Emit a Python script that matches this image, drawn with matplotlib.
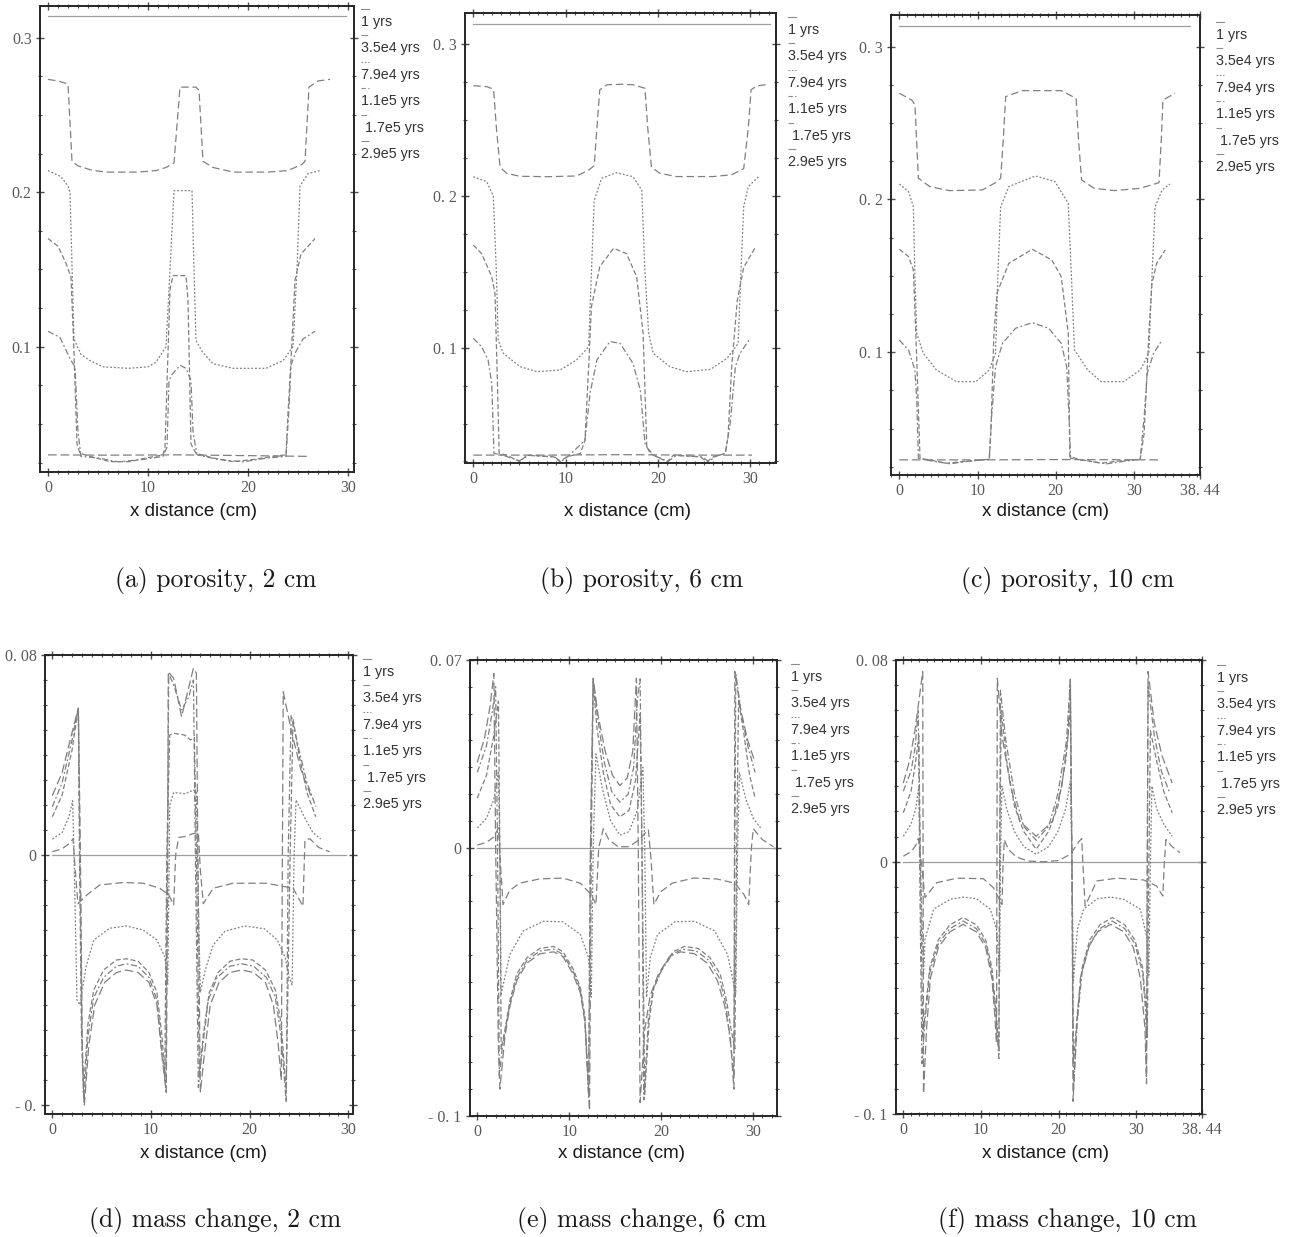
import matplotlib
matplotlib.use("Agg")
import matplotlib.pyplot as plt
from matplotlib.ticker import MultipleLocator
from matplotlib.lines import Line2D

# ---- series labels / styles ----
labels = ["1 yrs", "3.5e4 yrs", "7.9e4 yrs", "1.1e5 yrs", " 1.7e5 yrs", "2.9e5 yrs"]
styles = ["-", (0, (6, 3)), (0, (1.5, 1.5)), (0, (4, 2)), (0, (5, 2, 1.5, 2)), (0, (7, 3))]

# ---- (a) porosity, 2 cm ----
a_1 = [(0, 0.314), (29.8, 0.314)]
a_35e4 = [(0, 0.273), (1.0, 0.272), (2.0, 0.270), (2.4, 0.220), (3.0, 0.217), (4.5, 0.214), (6.0, 0.213),
          (9.0, 0.213), (10.8, 0.214), (11.8, 0.216), (12.6, 0.219), (13.2, 0.268), (14.8, 0.268), (15.1, 0.266),
          (15.5, 0.220), (16.5, 0.216), (18.5, 0.213), (22.0, 0.213), (24.0, 0.214), (25.4, 0.218), (25.7, 0.220),
          (26.1, 0.268), (27.0, 0.272), (28.2, 0.273)]
a_79e4 = [(0, 0.214), (1.3, 0.210), (2.0, 0.204), (2.2, 0.200), (2.6, 0.105), (3.3, 0.095), (4.2, 0.091),
          (5.5, 0.087), (8.0, 0.086), (10.0, 0.087), (10.8, 0.090), (11.8, 0.100), (12.2, 0.150), (12.6, 0.201),
          (14.4, 0.201), (14.6, 0.150), (14.8, 0.104), (15.4, 0.097), (16.5, 0.089), (18.5, 0.086), (21.8, 0.086),
          (23.5, 0.091), (24.5, 0.100), (24.9, 0.150), (25.2, 0.204), (26.0, 0.212), (27.2, 0.214)]
a_11e5 = [(0, 0.170), (1.0, 0.165), (1.8, 0.154), (2.3, 0.145), (2.6, 0.096), (2.9, 0.037), (3.2, 0.031),
          (4.2, 0.029), (6.2, 0.0256), (8.2, 0.0256), (9.8, 0.028), (11.5, 0.030), (11.7, 0.035), (12.2, 0.137),
          (12.5, 0.146), (13.8, 0.146), (14.0, 0.130), (14.3, 0.037), (14.8, 0.031), (16.5, 0.028), (18.5, 0.0256),
          (20.5, 0.027), (22.5, 0.029), (23.8, 0.030), (24.0, 0.057), (24.3, 0.091), (24.7, 0.143), (25.3, 0.160),
          (26.7, 0.170)]
a_17e5 = [(0, 0.110), (1.2, 0.106), (2.3, 0.091), (2.7, 0.087), (3.0, 0.045), (3.3, 0.029), (5.0, 0.028),
          (7.0, 0.0255), (9.5, 0.027), (11.5, 0.029), (11.9, 0.035), (12.1, 0.078), (12.4, 0.082), (13.2, 0.088),
          (13.8, 0.086), (14.3, 0.078), (14.5, 0.045), (14.9, 0.030), (17.0, 0.027), (19.5, 0.0255), (22.0, 0.028),
          (23.8, 0.029), (24.1, 0.060), (24.3, 0.088), (24.8, 0.097), (25.5, 0.105), (26.7, 0.110)]
a_29e5 = [(0, 0.030), (6.0, 0.0298), (13.0, 0.030), (20.0, 0.0295), (26.2, 0.029)]

# ---- (b) porosity, 6 cm ----
b_1 = [(0, 0.3134), (32.1, 0.3134)]
b_35e4 = [(0, 0.2727), (1.5, 0.272), (2.2, 0.2703), (2.5, 0.245), (2.9, 0.219), (3.6, 0.215), (5.0, 0.213),
          (8.0, 0.2127), (11.2, 0.2132), (12.5, 0.217), (13.1, 0.220), (13.4, 0.245), (13.7, 0.270), (14.5, 0.2733),
          (16.0, 0.2736), (17.3, 0.2733), (18.6, 0.271), (18.9, 0.245), (19.3, 0.219), (20.2, 0.215), (22.0, 0.2128),
          (26.0, 0.2128), (28.0, 0.214), (29.3, 0.218), (29.8, 0.245), (30.1, 0.270), (30.7, 0.2725), (32.0, 0.2736)]
b_79e4 = [(0, 0.2127), (1.45, 0.2094), (2.17, 0.200), (2.5, 0.150), (2.7, 0.105), (3.25, 0.0963), (5.06, 0.0875),
          (6.9, 0.0842), (9.4, 0.0853), (11.2, 0.092), (12.5, 0.1006), (12.8, 0.150), (13.1, 0.197), (13.9, 0.2116),
          (15.5, 0.2154), (17.3, 0.2127), (18.25, 0.204), (18.6, 0.150), (19.0, 0.1095), (19.5, 0.0963),
          (21.3, 0.0875), (23.1, 0.0842), (25.7, 0.0857), (27.5, 0.093), (28.7, 0.1028), (29.0, 0.150),
          (29.3, 0.193), (29.8, 0.2062), (30.9, 0.2127)]
b_11e5 = [(0, 0.1677), (0.9, 0.162), (2.0, 0.1468), (2.35, 0.1358), (2.6, 0.080), (2.8, 0.0303), (3.6, 0.0292),
          (5.06, 0.0248), (5.8, 0.0292), (8.7, 0.0281), (9.4, 0.0248), (10.1, 0.028), (11.6, 0.0303), (12.1, 0.039),
          (12.5, 0.0875), (12.8, 0.127), (13.7, 0.1534), (15.2, 0.1655), (16.6, 0.162), (17.7, 0.1468),
          (18.4, 0.1095), (18.8, 0.0347), (19.5, 0.0292), (21.0, 0.0248), (21.7, 0.0292), (24.6, 0.0281),
          (25.3, 0.0248), (26.0, 0.028), (27.3, 0.0303), (27.6, 0.0413), (28.0, 0.0875), (28.6, 0.131),
          (29.3, 0.153), (30.5, 0.1655)]
b_17e5 = [(0, 0.1062), (0.9, 0.1007), (1.6, 0.092), (2.0, 0.0765), (2.24, 0.0303), (3.0, 0.0295), (5.0, 0.0255),
          (6.0, 0.029), (8.8, 0.028), (9.5, 0.025), (10.3, 0.0285), (12.1, 0.039), (12.65, 0.070), (13.4, 0.092),
          (14.8, 0.104), (15.9, 0.1029), (17.3, 0.0897), (18.1, 0.072), (18.6, 0.037), (19.2, 0.030), (21.1, 0.025),
          (22.0, 0.029), (24.8, 0.028), (25.5, 0.025), (26.3, 0.0285), (27.3, 0.0303), (27.8, 0.048),
          (28.4, 0.0875), (28.9, 0.0963), (30.0, 0.1062)]
b_29e5 = [(0, 0.0292), (8.0, 0.0292), (16.0, 0.0295), (24.0, 0.0292), (30.2, 0.0292)]

# ---- (c) porosity, 10 cm ----
c_1 = [(0, 0.3135), (37.1, 0.3135)]
c_35e4 = [(0, 0.2695), (1.6, 0.265), (2.0, 0.262), (2.44, 0.2139), (3.9, 0.2084), (6.4, 0.2058), (10.6, 0.2062),
          (12.3, 0.211), (12.96, 0.2139), (13.3, 0.240), (13.6, 0.2673), (15.7, 0.2712), (20.7, 0.2712),
          (22.6, 0.2662), (22.9, 0.240), (23.3, 0.2128), (24.9, 0.2073), (27.5, 0.2058), (30.8, 0.2073),
          (33.2, 0.211), (33.5, 0.240), (33.7, 0.265), (35.25, 0.2695)]
c_79e4 = [(0, 0.2101), (1.18, 0.2051), (1.8, 0.1953), (2.0, 0.150), (2.23, 0.1124), (3.07, 0.0993), (4.75, 0.0884),
          (7.3, 0.0808), (9.8, 0.0808), (11.5, 0.0884), (12.3, 0.0993), (12.6, 0.150), (12.96, 0.1953), (14.0, 0.2084),
          (17.4, 0.2154), (19.9, 0.2117), (21.6, 0.1975), (22.0, 0.150), (22.4, 0.1015), (24.1, 0.0884),
          (25.8, 0.0808), (28.7, 0.0808), (30.8, 0.0884), (31.9, 0.0993), (32.3, 0.150), (32.7, 0.1953),
          (33.6, 0.2062), (34.6, 0.2101)]
c_11e5 = [(0, 0.1674), (1.18, 0.1626), (1.8, 0.1539), (2.2, 0.100), (2.65, 0.0306), (3.9, 0.0296), (6.0, 0.0274),
          (8.1, 0.0285), (11.5, 0.030), (11.7, 0.047), (12.1, 0.1124), (12.5, 0.139), (14.0, 0.1582), (17.0, 0.1674),
          (19.5, 0.1604), (20.7, 0.1495), (21.6, 0.1124), (21.8, 0.0317), (23.3, 0.0296), (25.8, 0.0274),
          (28.3, 0.029), (30.8, 0.030), (31.3, 0.047), (31.9, 0.1124), (32.3, 0.1451), (32.9, 0.1582), (34.0, 0.167)]
c_17e5 = [(0, 0.108), (1.18, 0.1015), (2.0, 0.0884), (2.23, 0.0688), (2.44, 0.0306), (4.0, 0.029), (6.5, 0.027),
          (8.5, 0.0285), (11.5, 0.030), (11.8, 0.058), (12.3, 0.0906), (13.2, 0.1059), (14.85, 0.1157), (17.0, 0.1194),
          (19.1, 0.1157), (20.7, 0.1059), (21.4, 0.0906), (21.7, 0.058), (21.9, 0.0306), (24.0, 0.029), (26.5, 0.027),
          (28.5, 0.0285), (30.8, 0.030), (31.3, 0.058), (31.7, 0.0863), (32.5, 0.0993), (33.6, 0.108)]
c_29e5 = [(0, 0.0296), (10.0, 0.0296), (20.0, 0.0298), (33.2, 0.0296)]

# ---- (d) mass change, 2 cm ----
d_1 = [(0, 0.0), (29.8, 0.0)]
d_35e4 = [(0, 0.0013), (1.0, 0.0025), (1.7, 0.0045), (2.1, 0.0065), (2.3, -0.005), (2.6, -0.0195), (3.5, -0.016),
          (4.8, -0.012), (7.2, -0.011), (9.2, -0.0113), (10.9, -0.0133), (11.8, -0.016), (12.3, -0.020), (12.5, 0.0),
          (12.8, 0.007), (13.6, 0.0075), (14.2, 0.0085), (14.8, 0.009), (15.0, -0.006), (15.3, -0.0195),
          (16.3, -0.0133), (18.3, -0.0113), (21.7, -0.0113), (24.4, -0.0133), (25.4, -0.0205), (25.6, 0.006),
          (26.1, 0.0065), (27.0, 0.003), (28.1, 0.0013)]
d_79e4 = [(0, 0.0064), (1.0, 0.009), (1.7, 0.0155), (2.06, 0.0217), (2.2, 0.0), (2.5, -0.058), (2.8, -0.060),
          (3.4, -0.045), (4.2, -0.034), (5.8, -0.0293), (7.5, -0.0284), (9.2, -0.030), (10.6, -0.034), (11.4, -0.0407),
          (11.7, -0.052), (11.9, 0.020), (12.3, 0.025), (13.5, 0.0245), (14.3, 0.026), (14.6, 0.0255), (14.8, -0.020),
          (15.0, -0.055), (15.5, -0.046), (16.3, -0.036), (17.5, -0.0305), (19.5, -0.0284), (21.5, -0.0295),
          (22.8, -0.034), (23.6, -0.041), (24.0, -0.049), (24.3, -0.052), (24.5, 0.0), (24.7, 0.022), (25.5, 0.0155),
          (26.4, 0.009), (27.2, 0.0064)]
d_11e5 = [(0, 0.0153), (1.0, 0.024), (2.0, 0.042), (2.64, 0.0587), (2.75, 0.0), (2.95, -0.070), (3.15, -0.095),
          (3.6, -0.068), (4.2, -0.054), (5.2, -0.046), (6.5, -0.042), (7.5, -0.0415), (8.7, -0.0425), (9.8, -0.047),
          (10.6, -0.055), (11.1, -0.072), (11.4, -0.088), (11.6, 0.0), (11.9, 0.048), (12.3, 0.0487), (13.4, 0.048),
          (14.0, 0.046), (14.4, 0.047), (14.6, 0.0), (14.9, -0.088), (15.3, -0.072), (15.9, -0.055), (16.8, -0.047),
          (18.0, -0.0425), (19.2, -0.0415), (20.3, -0.042), (21.6, -0.046), (22.6, -0.054), (23.2, -0.068),
          (23.7, -0.095), (24.1, 0.0), (24.4, 0.0543), (25.0, 0.040), (25.8, 0.025), (26.7, 0.0153)]
d_17e5 = [(0, 0.0193), (1.0, 0.029), (2.0, 0.046), (2.64, 0.0587), (2.8, 0.0), (3.0, -0.070), (3.2, -0.099),
          (3.6, -0.073), (4.2, -0.057), (5.2, -0.049), (6.5, -0.0445), (7.5, -0.0435), (8.7, -0.0445), (9.8, -0.049),
          (10.6, -0.058), (11.1, -0.078), (11.5, -0.093), (11.65, 0.0), (11.8, 0.0725), (12.3, 0.068), (13.1, 0.058),
          (13.8, 0.063), (14.3, 0.070), (14.5, 0.0), (14.8, -0.093), (15.2, -0.078), (15.8, -0.058), (16.7, -0.049),
          (18.0, -0.0445), (19.2, -0.0435), (20.4, -0.0445), (21.7, -0.049), (22.6, -0.057), (23.2, -0.073),
          (23.7, -0.099), (23.9, 0.0), (24.2, 0.056), (25.0, 0.042), (25.8, 0.029), (26.7, 0.0193)]
d_29e5 = [(0, 0.0237), (1.0, 0.033), (2.0, 0.049), (2.64, 0.0587), (2.85, 0.0), (3.05, -0.080), (3.25, -0.100),
          (3.7, -0.076), (4.3, -0.060), (5.3, -0.051), (6.5, -0.047), (7.5, -0.046), (8.7, -0.047), (9.8, -0.051),
          (10.6, -0.060), (11.1, -0.080), (11.55, -0.095), (11.7, 0.0), (11.75, 0.0733), (12.3, 0.0707),
          (13.1, 0.0553), (14.3, 0.0747), (14.6, 0.0727), (14.75, 0.0), (15.0, -0.095), (15.4, -0.080), (16.0, -0.060),
          (16.9, -0.051), (18.0, -0.047), (19.2, -0.046), (20.4, -0.047), (21.6, -0.051), (22.4, -0.060),
          (22.9, -0.076), (23.2, -0.090), (23.4, 0.0653), (24.2, 0.050), (25.2, 0.034), (26.2, 0.0237)]

# ---- (e) mass change, 6 cm ----
e_1 = [(0, 0.0), (32.4, 0.0)]
e_35e4 = [(0, 0.001), (1.0, 0.002), (1.8, 0.004), (2.3, 0.0074), (2.5, -0.005), (2.8, -0.0212), (3.5, -0.016),
          (4.6, -0.0132), (6.8, -0.0116), (9.3, -0.0113), (11.2, -0.0132), (12.4, -0.0175), (12.9, -0.0212),
          (13.2, 0.0), (13.7, 0.0071), (14.3, 0.003), (15.3, 0.0004), (16.5, 0.0004), (17.6, 0.003), (18.6, 0.0068),
          (18.9, -0.005), (19.2, -0.0212), (19.9, -0.0165), (21.2, -0.0132), (23.5, -0.0113), (26.0, -0.0116),
          (28.0, -0.0132), (29.0, -0.0175), (29.5, -0.0212), (29.8, 0.0), (30.0, 0.0071), (31.0, 0.003),
          (32.2, 0.0004)]
e_79e4 = [(0, 0.0074), (1.0, 0.011), (1.8, 0.018), (2.3, 0.028), (2.45, 0.0), (2.6, -0.0545), (3.55, -0.0397),
          (5.0, -0.031), (7.2, -0.0274), (9.3, -0.0276), (11.2, -0.0323), (12.1, -0.041), (12.4, -0.0557),
          (12.6, 0.0), (12.9, 0.035), (13.6, 0.022), (14.5, 0.010), (15.5, 0.0047), (16.5, 0.006), (17.4, 0.014),
          (18.0, 0.030), (18.2, 0.0), (18.4, -0.0557), (18.8, -0.041), (19.6, -0.0323), (21.5, -0.0276),
          (23.6, -0.0274), (25.8, -0.031), (27.2, -0.0397), (28.1, -0.0545), (28.3, 0.0), (28.5, 0.028),
          (29.2, 0.018), (30.0, 0.011), (30.8, 0.0074)]
e_11e5 = [(0, 0.0185), (1.0, 0.027), (1.8, 0.042), (2.3, 0.0546), (2.45, 0.0), (2.6, -0.075), (3.0, -0.068),
          (3.55, -0.057), (4.3, -0.047), (5.4, -0.041), (6.8, -0.0375), (8.3, -0.0368), (9.3, -0.0387), (10.4, -0.045),
          (11.2, -0.052), (11.7, -0.063), (12.1, -0.090), (12.3, 0.0), (12.6, 0.062), (13.0, 0.045), (13.7, 0.028),
          (14.5, 0.016), (15.5, 0.0115), (16.5, 0.014), (17.2, 0.025), (17.7, 0.050), (17.9, 0.0), (18.2, -0.092),
          (18.7, -0.064), (19.2, -0.052), (20.1, -0.045), (21.3, -0.0387), (22.5, -0.0368), (24.0, -0.0375),
          (25.3, -0.041), (26.4, -0.047), (27.1, -0.057), (27.6, -0.068), (28.0, -0.075), (28.2, 0.0), (28.4, 0.055),
          (29.0, 0.042), (29.6, 0.027), (30.2, 0.0185)]
e_17e5 = [(0, 0.0281), (1.0, 0.038), (1.6, 0.050), (2.0, 0.060), (2.2, 0.0), (2.4, -0.085), (2.7, -0.075),
          (3.55, -0.058), (4.3, -0.0485), (5.4, -0.042), (6.8, -0.0385), (8.3, -0.0378), (9.3, -0.0397),
          (10.4, -0.046), (11.2, -0.053), (11.7, -0.064), (12.1, -0.093), (12.3, 0.0), (12.6, 0.063), (13.1, 0.048),
          (13.8, 0.032), (14.6, 0.021), (15.5, 0.017), (16.4, 0.020), (17.0, 0.030), (17.4, 0.055), (17.7, 0.063),
          (17.9, 0.0), (18.1, -0.094), (18.6, -0.064), (19.1, -0.053), (20.0, -0.046), (21.2, -0.0397),
          (22.3, -0.0378), (23.8, -0.0385), (25.2, -0.042), (26.3, -0.0485), (27.0, -0.058), (27.6, -0.075),
          (27.9, -0.085), (28.0, 0.0), (28.1, 0.065), (28.7, 0.050), (29.4, 0.038), (30.2, 0.0281)]
e_29e5 = [(0, 0.0318), (0.8, 0.041), (1.4, 0.053), (1.8, 0.065), (2.0, 0.0), (2.3, -0.075), (2.46, -0.090),
          (3.0, -0.0705), (3.55, -0.059), (4.3, -0.0495), (5.4, -0.043), (6.8, -0.0395), (8.3, -0.0388),
          (9.3, -0.0405), (10.4, -0.047), (11.2, -0.054), (11.7, -0.065), (12.2, -0.098), (12.4, 0.0), (12.6, 0.0632),
          (13.1, 0.050), (13.9, 0.036), (14.7, 0.027), (15.5, 0.0232), (16.3, 0.026), (16.9, 0.036), (17.3, 0.0632),
          (17.5, 0.0), (17.7, -0.095), (18.2, -0.068), (18.8, -0.055), (19.7, -0.047), (20.9, -0.0405),
          (22.1, -0.0388), (23.6, -0.0395), (25.0, -0.043), (26.1, -0.0495), (26.9, -0.059), (27.5, -0.0705),
          (27.9, -0.090), (28.0, 0.0657), (28.6, 0.052), (29.4, 0.040), (30.2, 0.0318)]

# ---- (f) mass change, 10 cm ----
f_1 = [(0, 0.0), (38.2, 0.0)]
f_35e4 = [(0, 0.0022), (1.0, 0.004), (1.6, 0.0065), (1.93, 0.0092), (2.3, 0.0), (2.8, -0.0142), (4.3, -0.0083),
          (6.9, -0.0065), (10.3, -0.0067), (11.6, -0.0103), (12.7, -0.0169), (12.85, 0.0), (13.0, 0.0088),
          (13.5, 0.005), (14.5, 0.002), (16.0, 0.0003), (18.0, 0.0), (20.0, 0.0005), (21.5, 0.003), (22.6, 0.008),
          (22.96, 0.0092), (23.1, 0.0), (23.4, -0.0175), (24.9, -0.0076), (27.5, -0.0065), (30.9, -0.0072),
          (32.6, -0.0096), (33.4, -0.0136), (33.6, 0.0), (33.8, 0.0088), (34.6, 0.006), (35.6, 0.0036)]
f_79e4 = [(0, 0.0101), (1.0, 0.015), (1.6, 0.021), (2.0, 0.030), (2.2, 0.0), (2.6, -0.045), (2.8, -0.0307),
          (3.9, -0.0188), (6.0, -0.0149), (7.7, -0.014), (9.4, -0.0146), (11.2, -0.0188), (12.0, -0.0268),
          (12.4, -0.0439), (12.5, 0.0), (12.7, 0.030), (13.3, 0.021), (14.3, 0.012), (15.5, 0.006), (17.1, 0.003),
          (18.7, 0.006), (19.9, 0.012), (20.9, 0.021), (21.5, 0.032), (21.7, 0.0), (21.9, -0.047), (22.4, -0.0268),
          (23.2, -0.0188), (25.0, -0.0146), (26.7, -0.014), (28.4, -0.0149), (30.5, -0.0188), (31.4, -0.0307),
          (31.6, -0.045), (31.8, 0.0), (32.0, 0.030), (32.6, 0.021), (33.5, 0.015), (34.6, 0.0101)]
f_11e5 = [(0, 0.0194), (1.0, 0.028), (1.6, 0.040), (2.0, 0.050), (2.2, 0.0), (2.5, -0.070), (2.8, -0.060),
          (3.4, -0.042), (4.5, -0.031), (6.0, -0.025), (7.7, -0.0221), (9.4, -0.025), (10.6, -0.031), (11.4, -0.042),
          (11.9, -0.058), (12.3, -0.075), (12.4, 0.0), (12.6, 0.060), (13.3, 0.040), (14.3, 0.022), (15.5, 0.012),
          (17.1, 0.005), (18.7, 0.012), (19.9, 0.022), (20.9, 0.040), (21.5, 0.060), (21.7, 0.0), (21.9, -0.080),
          (22.4, -0.060), (23.0, -0.042), (24.0, -0.031), (25.3, -0.025), (26.9, -0.0221), (28.5, -0.025),
          (29.8, -0.031), (30.8, -0.042), (31.3, -0.060), (31.4, -0.070), (31.6, 0.0), (31.8, 0.052), (32.6, 0.040),
          (33.5, 0.028), (34.6, 0.0194)]
f_17e5 = [(0, 0.028), (1.0, 0.036), (1.5, 0.045), (1.93, 0.060), (2.1, 0.0), (2.4, -0.080), (2.8, -0.063),
          (3.4, -0.044), (4.5, -0.0325), (6.0, -0.0265), (7.7, -0.0235), (9.4, -0.0265), (10.6, -0.0325),
          (11.4, -0.044), (11.9, -0.060), (12.3, -0.078), (12.4, 0.0), (12.5, 0.068), (13.2, 0.048), (14.3, 0.027),
          (15.5, 0.014), (17.1, 0.0085), (18.7, 0.014), (19.9, 0.027), (21.0, 0.048), (21.5, 0.0724), (21.7, 0.0),
          (21.9, -0.090), (22.4, -0.063), (23.0, -0.044), (24.0, -0.0325), (25.3, -0.0265), (26.9, -0.0235),
          (28.5, -0.0265), (29.8, -0.0325), (30.8, -0.044), (31.2, -0.060), (31.3, -0.085), (31.4, 0.0),
          (31.5, 0.070), (32.3, 0.050), (33.2, 0.036), (34.2, 0.028)]
f_29e5 = [(0, 0.0312), (0.8, 0.040), (1.5, 0.052), (2.1, 0.066), (2.5, 0.0754), (2.55, 0.0), (2.6, -0.092),
          (3.0, -0.066), (3.5, -0.046), (4.5, -0.034), (6.0, -0.0278), (7.7, -0.0248), (9.4, -0.0278),
          (10.6, -0.034), (11.4, -0.046), (11.8, -0.062), (12.0, -0.072), (12.05, 0.0), (12.1, 0.0728),
          (12.7, 0.050), (13.8, 0.030), (15.0, 0.016), (17.1, 0.0101), (19.2, 0.016), (20.4, 0.030), (21.2, 0.050),
          (21.5, 0.0724), (21.7, 0.0), (21.85, -0.095), (22.3, -0.066), (22.8, -0.046), (23.8, -0.034),
          (25.0, -0.0278), (26.7, -0.0248), (28.4, -0.0278), (29.6, -0.034), (30.5, -0.046), (31.1, -0.066),
          (31.3, -0.088), (31.4, 0.0), (31.5, 0.0754), (32.3, 0.055), (33.3, 0.042), (34.6, 0.0312)]

# ---- layout (figure pixels) ----
W, H = 1289, 1237
fig = plt.figure(figsize=(W / 100, H / 100), dpi=100)

panels = [
    dict(box=(40, 6, 354, 472), curves=[a_1, a_35e4, a_79e4, a_11e5, a_17e5, a_29e5],
         xlim=(-0.8, 30.6), ylim=(0.0189, 0.3205), yticks=[0.1, 0.2, 0.3], ylabels=["0.1", "0.2", "0.3"],
         xticks=[0, 10, 20, 30], xlabels=["0", "10", "20", "30"], yminor=0.025,
         leg=(361, 22), xlab=(194, 512), cap=("(a) porosity, 2 cm", 216, 580)),
    dict(box=(465, 13, 776, 463), curves=[b_1, b_35e4, b_79e4, b_11e5, b_17e5, b_29e5],
         xlim=(-0.9, 32.8), ylim=(0.024, 0.3206), yticks=[0.1, 0.2, 0.3], ylabels=["0. 1", "0. 2", "0. 3"],
         xticks=[0, 10, 20, 30], xlabels=["0", "10", "20", "30"], yminor=0.025,
         leg=(788, 30), xlab=(627, 512), cap=("(b) porosity, 6 cm", 642, 580)),
    dict(box=(891, 15, 1200, 475), curves=[c_1, c_35e4, c_79e4, c_11e5, c_17e5, c_29e5],
         xlim=(-1.06, 38.44), ylim=(0.0197, 0.3207), yticks=[0.1, 0.2, 0.3], ylabels=["0. 1", "0. 2", "0. 3"],
         xticks=[0, 10, 20, 30, 38.44], xlabels=["0", "10", "20", "30", "38. 44"], yminor=0.025,
         leg=(1216, 35), xlab=(1046, 512), cap=("(c) porosity, 10 cm", 1068, 580)),
    dict(box=(45, 655, 353, 1114), curves=[d_1, d_35e4, d_79e4, d_11e5, d_17e5, d_29e5],
         xlim=(-0.74, 30.47), ylim=(-0.1036, 0.08), yticks=[-0.1, 0, 0.08], ylabels=["- 0.", "0", "0. 08"],
         xticks=[0, 10, 20, 30], xlabels=["0", "10", "20", "30"], yminor=0.01,
         leg=(363, 672), xlab=(204, 1153), cap=("(d) mass change, 2 cm", 215, 1220)),
    dict(box=(470, 660, 777, 1116), curves=[e_1, e_35e4, e_79e4, e_11e5, e_17e5, e_29e5],
         xlim=(-0.79, 32.58), ylim=(-0.1, 0.07), yticks=[-0.1, 0, 0.07], ylabels=["- 0. 1", "0", "0. 07"],
         xticks=[0, 10, 20, 30], xlabels=["0", "10", "20", "30"], yminor=0.01,
         leg=(791, 677), xlab=(622, 1153), cap=("(e) mass change, 6 cm", 642, 1220)),
    dict(box=(896, 660, 1202, 1114), curves=[f_1, f_35e4, f_79e4, f_11e5, f_17e5, f_29e5],
         xlim=(-0.94, 38.44), ylim=(-0.1, 0.08), yticks=[-0.1, 0, 0.08], ylabels=["- 0. 1", "0", "0. 08"],
         xticks=[0, 10, 20, 30, 38.44], xlabels=["0", "10", "20", "30", "38. 44"], yminor=0.01,
         leg=(1217, 678), xlab=(1046, 1153), cap=("(f) mass change, 10 cm", 1068, 1220)),
]

tick_font = "Liberation Serif"
sans = "Liberation Sans"

for p in panels:
    l, t, r, b = p["box"]
    ax = fig.add_axes([l / W, 1 - b / H, (r - l) / W, (b - t) / H])
    for i, pts in enumerate(p["curves"]):
        xs = [q[0] for q in pts]
        ys = [q[1] for q in pts]
        col = "0.62" if i == 0 else "0.5"
        ax.plot(xs, ys, color=col, ls=styles[i], lw=0.9)
    ax.set_xlim(*p["xlim"])
    ax.set_ylim(*p["ylim"])
    ax.set_xticks(p["xticks"])
    ax.set_xticklabels(p["xlabels"], fontfamily=tick_font, fontsize=11.5, color="0.35")
    ax.set_yticks(p["yticks"])
    ax.set_yticklabels(p["ylabels"], fontfamily=tick_font, fontsize=11.5, color="0.35")
    ax.xaxis.set_minor_locator(MultipleLocator(1))
    ax.yaxis.set_minor_locator(MultipleLocator(p["yminor"]))
    ax.tick_params(which="both", top=True, right=True, direction="inout", color="0.3")
    ax.tick_params(which="major", length=6, width=1.0, pad=3)
    ax.tick_params(which="minor", length=3, width=0.8)
    for s in ax.spines.values():
        s.set_linewidth(1.4)
        s.set_color("0.15")

    # legend: short line sample above each label
    lx, ly = p["leg"]
    for i, lab in enumerate(labels):
        yy = ly + i * 26.4
        fig.add_artist(Line2D([lx / W, (lx + 8) / W], [1 - (yy - 13) / H, 1 - (yy - 13) / H],
                              transform=fig.transFigure, color="0.55", lw=0.8, ls=styles[i]))
        fig.text(lx / W, 1 - yy / H, lab, fontsize=10.3, family=sans, color="0.2",
                 ha="left", va="center")

    # x axis title and caption
    fig.text(p["xlab"][0] / W, 1 - p["xlab"][1] / H, "x distance (cm)", fontsize=13.5, family=sans,
             color="0.1", ha="center", va="center")
    cap, cx, cy = p["cap"]
    fig.text(cx / W, 1 - cy / H, cap, fontsize=18.5, fontname="cmr10", color="0.1",
             ha="center", va="center")

fig.savefig("out.png", dpi=100)
